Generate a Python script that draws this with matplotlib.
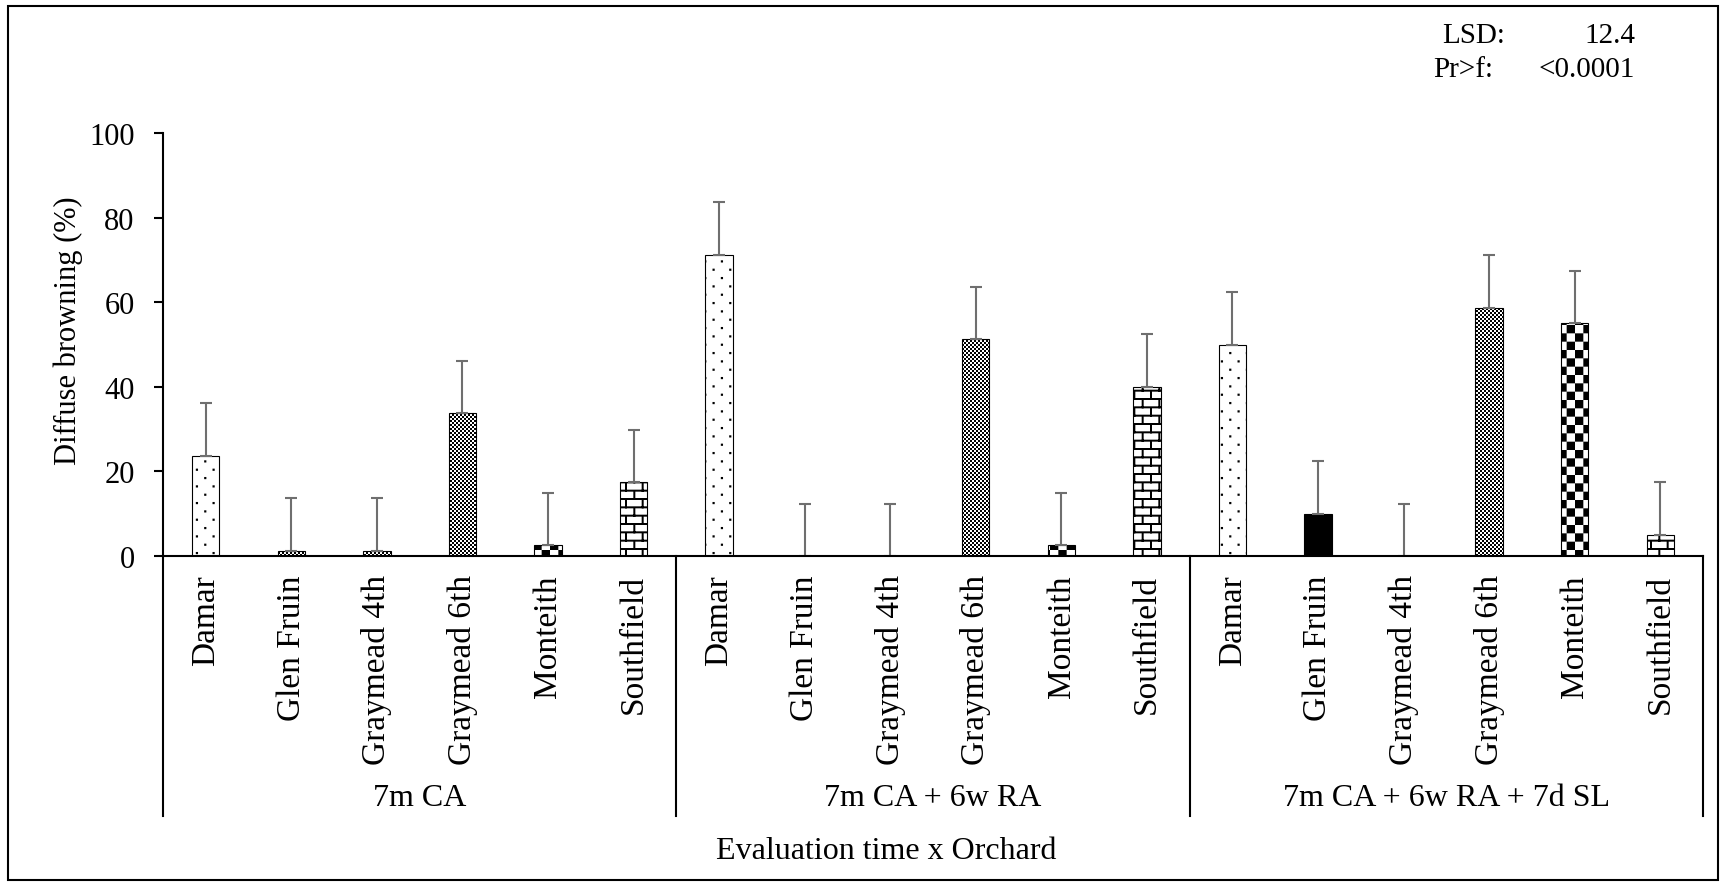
import numpy as np
import matplotlib
matplotlib.use("Agg")
import matplotlib.pyplot as plt
import matplotlib.hatch as mhatch
from matplotlib.path import Path
from matplotlib.patches import Rectangle

# data
orchards = ["Damar", "Glen Fruin", "Graymead 4th", "Graymead 6th", "Monteith", "Southfield"]
times = ["7m CA", "7m CA + 6w RA", "7m CA + 6w RA + 7d SL"]
ca = [23.7, 1.25, 1.25, 33.7, 2.5, 17.5]
ca_ra = [71.2, 0.0, 0.0, 51.2, 2.5, 40.0]
ca_ra_sl = [50.0, 10.0, 0.0, 58.7, 55.0, 5.0]
lsd = 12.4
lsd_text = "12.4"
pr_text = "<0.0001"

# fill patterns, one per bar (excel style)
hatches = [".", "OOOO", "OOOO", "OOOO", "O", "*",
           ".", "OOOO", "OOOO", "OOOO", "O", "*",
           ".", "solid", "OOOO", "OOOO", "O", "*"]


# custom hatches made of filled rectangles in the unit hatch tile
class Tiles:
    def __init__(self, hatch, density):
        self.rects = np.array(self.make(hatch), dtype=float).reshape(-1, 4)
        self.num_vertices = 5 * len(self.rects)

    def set_vertices_and_codes(self, vertices, codes):
        x, y, w, h = self.rects.T
        v = np.stack([np.c_[x, y], np.c_[x + w, y], np.c_[x + w, y + h],
                      np.c_[x, y + h], np.c_[x, y]], axis=1)
        vertices[:] = v.reshape(-1, 2)
        c = [Path.MOVETO, Path.LINETO, Path.LINETO, Path.LINETO, Path.CLOSEPOLY]
        codes[:] = np.tile(c, len(self.rects))


class Dots(Tiles):
    def make(self, hatch):
        if "." not in hatch:
            return []
        s = 0.022
        return [((k + 0.25 + 0.5 * (r % 2)) / 6, (r + 0.5) / 12, s, s)
                for r in range(12) for k in range(6)]


class Checker(Tiles):
    def make(self, hatch):
        n = int(hatch.count("O") * 6.25) * 2
        if n == 0:
            return []
        c = 1.0 / n
        return [(i * c, j * c, c, c) for i in range(n) for j in range(n) if (i + j) % 2 == 0]


class Bricks(Tiles):
    def make(self, hatch):
        if "*" not in hatch:
            return []
        t = 0.02
        out = [(0, r / 12, 1, t) for r in range(12)]
        out += [((k + 0.5 * (r % 2)) / 6, r / 12, t, 1 / 12) for r in range(12) for k in range(6)]
        return out


mhatch._hatch_types = [mhatch.HorizontalHatch, mhatch.VerticalHatch,
                       mhatch.NorthEastHatch, mhatch.SouthEastHatch,
                       Dots, Checker, Bricks]

plt.rcParams["font.family"] = ["Liberation Serif", "DejaVu Serif"]
plt.rcParams["hatch.linewidth"] = 0.0
plt.rcParams["hatch.color"] = "black"

values = ca + ca_ra + ca_ra_sl
labels = orchards * len(times)
x = np.arange(len(values))
n = len(orchards)

fig = plt.figure(figsize=(17.24, 8.87), dpi=100)
ax = fig.add_axes([163 / 1724, 1 - 557 / 887, 1540 / 1724, 423 / 887])

bars = ax.bar(x, values, width=0.32, color="white", edgecolor="black", linewidth=0.8)
for b, h in zip(bars, hatches):
    if h == "solid":
        b.set_facecolor("black")
    else:
        b.set_hatch(h)

ax.errorbar(x, values, yerr=[np.zeros(len(values)), np.full(len(values), lsd)],
            fmt="none", ecolor="#6f6f6f", elinewidth=1.5, capsize=4, capthick=1.5)

ax.set_xlim(-0.5, len(values) - 0.5)
ax.set_ylim(0, 100)
ax.set_yticks(range(0, 101, 20))
ax.set_xticks(x, labels, rotation=90)
ax.tick_params(axis="x", length=0, pad=13, labelsize=24)
ax.tick_params(axis="y", direction="out", length=6.5, width=1.5, pad=14, labelsize=22)
for s in ["top", "right"]:
    ax.spines[s].set_visible(False)
for s in ["left", "bottom"]:
    ax.spines[s].set_linewidth(1.5)

# group separators and group names under the axis
trans = ax.get_xaxis_transform()
for g in range(len(times) + 1):
    ax.plot([g * n - 0.5, g * n - 0.5], [0, -0.615], transform=trans,
            color="black", lw=1.5, clip_on=False)
for g, t in enumerate(times):
    ax.text(g * n + (n - 1) / 2, -0.572, t, transform=trans,
            ha="center", va="center", fontsize=23)

fig.text(68 / 1724, 1 - 331 / 887, "Diffuse browning (%)", rotation=90,
         ha="center", va="center", fontsize=22)
fig.text(886 / 1724, 1 - 852 / 887, "Evaluation time x Orchard",
         ha="center", va="center", fontsize=23)

fig.text(1442 / 1724, 1 - 36 / 887, "LSD:", va="center", fontsize=21)
fig.text(1635 / 1724, 1 - 36 / 887, lsd_text, ha="right", va="center", fontsize=21)
fig.text(1433 / 1724, 1 - 70 / 887, "Pr>f:", va="center", fontsize=21)
fig.text(1635 / 1724, 1 - 70 / 887, pr_text, ha="right", va="center", fontsize=21)

fig.add_artist(Rectangle((8 / 1724, 6 / 887), 1710 / 1724, 874 / 887,
                         transform=fig.transFigure, fill=False, lw=1.5, ec="black"))

fig.savefig("out.png", dpi=100)
